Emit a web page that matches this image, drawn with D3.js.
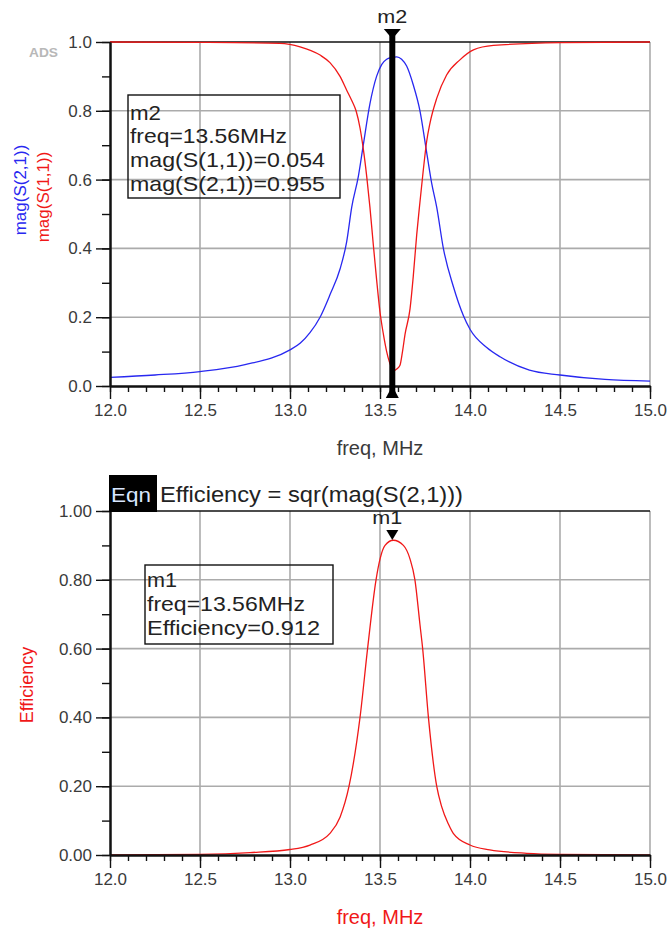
<!DOCTYPE html>
<html><head><meta charset="utf-8">
<script src="https://cdn.jsdelivr.net/npm/d3@7"></script>
<style>body{margin:0;background:#fff} text{font-family:"Liberation Sans",Arial,sans-serif}</style>
</head><body><svg id="c" width="670" height="933"></svg>
<script>
// ---------- data ----------
const freqS21 = [12.0,12.25,12.5,12.75,13.0,13.056,13.111,13.167,13.222,13.278,13.315,13.343,13.38,13.407,13.444,13.481,13.51,13.537,13.565,13.593,13.62,13.648,13.685,13.722,13.759,13.787,13.815,13.852,13.907,13.963,14.0,14.093,14.167,14.33,14.5,14.75,15.0];
const magS21  = [0.025,0.032,0.042,0.062,0.105,0.124,0.155,0.20,0.265,0.34,0.42,0.52,0.61,0.70,0.82,0.90,0.935,0.95,0.955,0.957,0.95,0.93,0.875,0.80,0.68,0.59,0.52,0.40,0.29,0.205,0.165,0.112,0.085,0.046,0.032,0.019,0.014];

const freqS11 = [12.0,12.5,12.944,13.056,13.167,13.222,13.278,13.315,13.343,13.367,13.389,13.407,13.426,13.444,13.463,13.481,13.5,13.519,13.537,13.552,13.575,13.595,13.611,13.625,13.639,13.667,13.685,13.704,13.722,13.741,13.759,13.778,13.815,13.87,13.944,14.019,14.13,14.5,15.0];
const magS11  = [1.0,0.999,0.996,0.986,0.962,0.94,0.90,0.86,0.83,0.80,0.75,0.69,0.61,0.52,0.41,0.31,0.215,0.15,0.10,0.07,0.045,0.05,0.06,0.10,0.15,0.225,0.32,0.44,0.535,0.63,0.71,0.765,0.836,0.904,0.948,0.977,0.99,0.998,1.0];

const freqEff   = [12.0,12.5,12.778,13.0,13.111,13.222,13.278,13.328,13.389,13.431,13.478,13.5,13.528,13.574,13.63,13.667,13.694,13.722,13.737,13.769,13.815,13.843,13.88,13.907,14.0,14.11,14.315,14.5,15.0];
const efficiency= [0.0005,0.002,0.007,0.016,0.029,0.063,0.11,0.20,0.40,0.60,0.80,0.86,0.90,0.915,0.90,0.86,0.80,0.67,0.60,0.40,0.20,0.14,0.09,0.063,0.029,0.015,0.005,0.002,0.0003];

const xTicks = [12.0,12.5,13.0,13.5,14.0,14.5,15.0];
const yTicksTop = [0.0,0.2,0.4,0.6,0.8,1.0];
const yTicksBottom = [0.0,0.2,0.4,0.6,0.8,1.0];

const markerFreq = 13.56;
const markerS11 = 0.054, markerS21 = 0.955, markerEff = 0.912;

// ---------- drawing ----------
const svg = d3.select("#c");
const RED = "#f01818", BLUE = "#2828f0", GRID = "#ababab", LBL = "#3a3a3a";
const x = d3.scaleLinear().domain([12,15]).range([110,650]);
const xMinor = d3.range(120, 151).map(v => v/10);
const yMinor = d3.range(0, 11).map(v => v/10);

function panel(yTopPx, yBotPx, yTicks) {
  const y = d3.scaleLinear().domain([0,1]).range([yBotPx, yTopPx]);
  const g = svg.append("g");
  g.selectAll(".vg").data(xTicks.filter(t => t > 12)).join("line")
    .attr("x1", d => x(d)).attr("x2", d => x(d)).attr("y1", y(0)).attr("y2", y(1))
    .attr("stroke", GRID).attr("stroke-width", 1.6);
  g.selectAll(".hg").data(yTicks.filter(t => t > 0 && t < 1)).join("line")
    .attr("x1", x(12)).attr("x2", x(15)).attr("y1", d => y(d)).attr("y2", d => y(d))
    .attr("stroke", GRID).attr("stroke-width", 1.6);
  g.append("line").attr("x1", x(12)).attr("x2", x(15)).attr("y1", y(1)).attr("y2", y(1))
    .attr("stroke", "#111").attr("stroke-width", 1.6);
  return {g, y};
}

function axes(g, y, yTicks, fmt, titleColor, titleBase) {
  g.append("g").attr("transform", `translate(0,${y(0)})`)
    .call(d3.axisBottom(x).tickValues(xTicks).tickFormat(d3.format(".1f")).tickSize(13).tickPadding(5).tickSizeOuter(0));
  g.append("g").attr("transform", `translate(0,${y(0)})`)
    .call(d3.axisBottom(x).tickValues(xMinor).tickFormat("").tickSize(6).tickSizeOuter(0));
  g.append("g").attr("transform", `translate(${x(12)},0)`)
    .call(d3.axisLeft(y).tickValues(yTicks).tickFormat(d3.format(fmt)).tickSize(14).tickPadding(4).tickSizeOuter(0));
  g.append("g").attr("transform", `translate(${x(12)},0)`)
    .call(d3.axisLeft(y).tickValues(yMinor).tickFormat("").tickSize(8).tickSizeOuter(0));
  g.selectAll(".domain").attr("stroke", "#111").attr("stroke-width", 2);
  g.selectAll(".tick line").attr("stroke", "#111").attr("stroke-width", 1.4);
  g.selectAll(".tick text").attr("font-size", 17).attr("fill", LBL)
    .attr("font-family", "'Liberation Sans', Arial, sans-serif");
  g.append("text").attr("x", 380).attr("y", titleBase).attr("text-anchor", "middle")
    .attr("font-size", 20).attr("fill", titleColor).text("freq, MHz");
}

function legend(g, x0, y0, w, h, lines, tx, base0, step, lens) {
  g.append("rect").attr("x", x0).attr("y", y0).attr("width", w).attr("height", h)
    .attr("fill", "none").attr("stroke", "#111").attr("stroke-width", 1.4);
  lines.forEach((t, i) => {
    g.append("text").attr("x", tx).attr("y", base0 + i*step).attr("font-size", 21)
      .attr("fill", "#222").attr("textLength", lens[i]).attr("lengthAdjust", "spacingAndGlyphs").text(t);
  });
}

const lineGen = (y, fx, fy) => d3.line().curve(d3.curveMonotoneX)
  .x((d,i) => x(fx[i])).y((d,i) => y(fy[i]));

// ----- top panel -----
const topP = panel(42, 386, yTicksTop);
legend(topP.g, 128, 95, 212, 103,
  ["m2", `freq=${markerFreq}MHz`, `mag(S(1,1))=${markerS11}`, `mag(S(2,1))=${markerS21}`],
  130, 119.5, 23.8, [31, 157, 195, 195]);
topP.g.append("path").datum(freqS21).attr("d", lineGen(topP.y, freqS21, magS21))
  .attr("fill", "none").attr("stroke", BLUE).attr("stroke-width", 1.3);
topP.g.append("path").datum(freqS11).attr("d", lineGen(topP.y, freqS11, magS11))
  .attr("fill", "none").attr("stroke", RED).attr("stroke-width", 1.3);
axes(topP.g, topP.y, yTicksTop, ".1f", LBL, 455);
svg.append("text").attr("transform", "translate(26,190) rotate(-90)").attr("text-anchor", "middle")
  .attr("font-size", 17).attr("fill", BLUE).text("mag(S(2,1))");
svg.append("text").attr("transform", "translate(49,197) rotate(-90)").attr("text-anchor", "middle")
  .attr("font-size", 17).attr("fill", RED).text("mag(S(1,1))");
svg.append("text").attr("x", 29).attr("y", 57).attr("font-size", 12).attr("font-weight", "bold")
  .attr("fill", "#b8b8b8").attr("textLength", 29).attr("lengthAdjust", "spacingAndGlyphs").text("ADS");
const mx = x(markerFreq) + 1.5;
topP.g.append("line").attr("x1", mx).attr("x2", mx).attr("y1", 33).attr("y2", 394)
  .attr("stroke", "#000").attr("stroke-width", 6);
topP.g.append("path").attr("d", `M${mx-8.5},29 L${mx+8.5},29 L${mx},39 Z`).attr("fill", "#000");
topP.g.append("path").attr("d", `M${mx-6.5},398 L${mx+6.5},398 L${mx},386 Z`).attr("fill", "#000");
topP.g.append("text").attr("x", mx).attr("y", 23).attr("text-anchor", "middle").attr("font-size", 19)
  .attr("fill", "#222").attr("textLength", 30).attr("lengthAdjust", "spacingAndGlyphs").text("m2");

// ----- bottom panel -----
const botP = panel(511, 855, yTicksBottom);
legend(botP.g, 145, 565, 188, 79,
  ["m1", `freq=${markerFreq}MHz`, `Efficiency=${markerEff}`],
  147, 586.5, 24.3, [30, 158, 173]);
botP.g.append("path").datum(freqEff).attr("d", lineGen(botP.y, freqEff, efficiency))
  .attr("fill", "none").attr("stroke", RED).attr("stroke-width", 1.3);
axes(botP.g, botP.y, yTicksBottom, ".2f", RED, 924);
svg.append("text").attr("transform", "translate(33,685) rotate(-90)").attr("text-anchor", "middle")
  .attr("font-size", 18).attr("fill", RED).text("Efficiency");
botP.g.append("path").attr("d", `M${mx-6},530 L${mx+6},530 L${mx},540 Z`).attr("fill", "#000");
botP.g.append("text").attr("x", mx - 5).attr("y", 524).attr("text-anchor", "middle").attr("font-size", 19)
  .attr("fill", "#222").attr("textLength", 30).attr("lengthAdjust", "spacingAndGlyphs").text("m1");
svg.append("rect").attr("x", 109).attr("y", 475).attr("width", 48).attr("height", 37).attr("fill", "#000");
svg.append("text").attr("x", 111).attr("y", 501.5).attr("font-size", 20).attr("fill", "#d8e6ff")
  .attr("textLength", 40).attr("lengthAdjust", "spacingAndGlyphs").text("Eqn");
svg.append("text").attr("x", 160).attr("y", 501.5).attr("font-size", 22).attr("fill", "#222")
  .attr("textLength", 303).attr("lengthAdjust", "spacingAndGlyphs").text("Efficiency = sqr(mag(S(2,1)))");
</script></body></html>
